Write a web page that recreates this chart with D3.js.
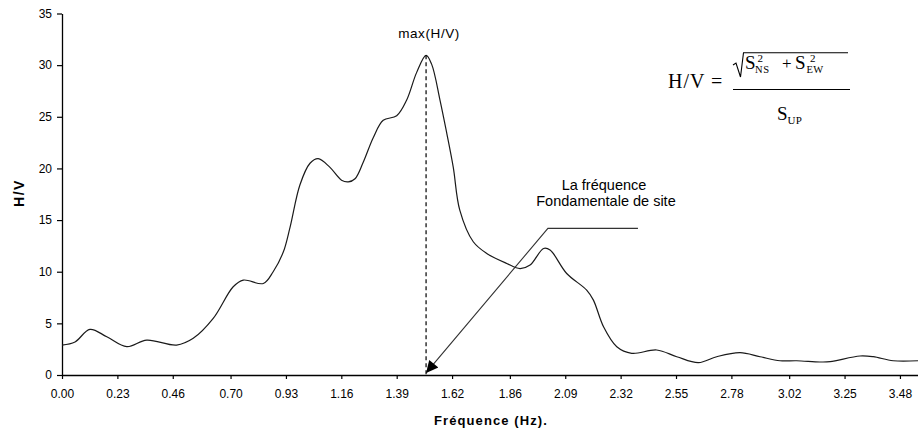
<!DOCTYPE html>
<html>
<head>
<meta charset="utf-8">
<script src="https://cdn.jsdelivr.net/npm/d3@7"></script>
<style>
  html, body { margin: 0; padding: 0; background: #fff; }
  svg { display: block; }
  text { font-family: "Liberation Sans", Arial, sans-serif; fill: #000; }
  text.serif { font-family: "Liberation Serif", "Times New Roman", serif; }
</style>
</head>
<body>
<svg id="chart" width="918" height="430"></svg>
<script>
// ---- data ----
const freq = [0.00, 0.054, 0.116, 0.186, 0.269, 0.352, 0.476, 0.545, 0.628, 0.711, 0.753, 0.836, 0.877, 0.919, 0.947, 0.988, 1.030, 1.064, 1.113, 1.161, 1.189, 1.217, 1.251, 1.293, 1.334, 1.390, 1.431, 1.473, 1.512, 1.535, 1.570, 1.598, 1.625, 1.652, 1.708, 1.764, 1.847, 1.902, 1.944, 2.000, 2.027, 2.096, 2.179, 2.207, 2.249, 2.304, 2.366, 2.470, 2.553, 2.643, 2.719, 2.816, 2.899, 2.982, 3.051, 3.148, 3.190, 3.314, 3.369, 3.452, 3.555];
const hv   = [2.90, 3.20, 4.42, 3.70, 2.74, 3.38, 2.90, 3.55, 5.48, 8.54, 9.19, 8.86, 10.0, 11.9, 14.3, 18.4, 20.5, 20.95, 20.1, 18.86, 18.7, 19.0, 20.6, 23.0, 24.66, 25.1, 26.6, 29.3, 30.95, 30.1, 26.6, 23.4, 20.1, 15.96, 12.9, 11.77, 10.8, 10.3, 10.64, 12.25, 12.1, 9.83, 8.22, 7.25, 4.67, 2.74, 2.10, 2.42, 1.77, 1.19, 1.77, 2.16, 1.77, 1.38, 1.38, 1.26, 1.29, 1.84, 1.77, 1.38, 1.38];
const xTickLabels = ["0.00","0.23","0.46","0.70","0.93","1.16","1.39","1.62","1.86","2.09","2.32","2.55","2.78","3.02","3.25","3.48"];
const yTicks = [0, 5, 10, 15, 20, 25, 30, 35];
const xDomain = [0, 3.555];
const yDomain = [0, 35];
// annotation anchors in data units
const peakIndex = hv.indexOf(d3.max(hv));
const calloutElbow = [2.018, 14.2];
const calloutEnd = [2.392, 14.2];

// ---- layout ----
const svg = d3.select("#chart");
const x = d3.scaleLinear().domain(xDomain).range([62, 918]);
const y = d3.scaleLinear().domain(yDomain).range([375, 13.5]);

// defs: arrowhead
svg.append("defs").append("marker")
  .attr("id", "arrow")
  .attr("viewBox", "0 0 10 10")
  .attr("refX", 10).attr("refY", 5)
  .attr("markerWidth", 17).attr("markerHeight", 12)
  .attr("markerUnits", "userSpaceOnUse")
  .attr("orient", "auto")
  .append("path").attr("d", "M0,0 L10,5 L0,10 Z").attr("fill", "#000");

// axes
const xAxis = d3.axisBottom(x)
  .tickValues(xTickLabels.map(Number))
  .tickFormat((d, i) => xTickLabels[i])
  .tickSize(4).tickSizeOuter(0).tickPadding(10);
const gx = svg.append("g").attr("transform", `translate(0,${y(0)})`).call(xAxis);

const yAxis = d3.axisLeft(y).tickValues(yTicks).tickFormat(d3.format("d"))
  .tickSize(5).tickSizeOuter(0).tickPadding(5);
const gy = svg.append("g").attr("transform", `translate(${x(0)},0)`).call(yAxis);

[gx, gy].forEach(g => {
  g.selectAll("path.domain").attr("stroke", "#000").attr("stroke-width", 1.3);
  g.selectAll(".tick line").attr("stroke", "#000").attr("stroke-width", 1.2);
  g.selectAll(".tick text").attr("font-size", 12).attr("fill", "#111")
    .attr("font-family", "Liberation Sans, Arial, sans-serif");
});

// axis titles
svg.append("text")
  .attr("x", 491).attr("y", 425)
  .attr("text-anchor", "middle")
  .attr("font-size", 13).attr("font-weight", "bold")
  .attr("letter-spacing", "1.1px")
  .text("Fréquence (Hz).");

svg.append("text")
  .attr("transform", "translate(24,193) rotate(-90)")
  .attr("text-anchor", "middle")
  .attr("font-size", 14).attr("font-weight", "bold")
  .attr("letter-spacing", "1.5px")
  .text("H/V");

// curve
const pts = freq.map((f, i) => [f, hv[i]]);
const line = d3.line().x(d => x(d[0])).y(d => y(d[1])).curve(d3.curveCatmullRom.alpha(0.5));
svg.append("path")
  .datum(pts)
  .attr("d", line)
  .attr("fill", "none")
  .attr("stroke", "#1a1a1a")
  .attr("stroke-width", 1.2);

// dashed line from peak down
const peakF = freq[peakIndex];
svg.append("line")
  .attr("x1", x(peakF)).attr("x2", x(peakF))
  .attr("y1", y(hv[peakIndex])).attr("y2", y(0))
  .attr("stroke", "#000").attr("stroke-width", 1.2)
  .attr("stroke-dasharray", "4,3");

// max label
svg.append("text")
  .attr("x", x(peakF) + 3).attr("y", 38)
  .attr("text-anchor", "middle")
  .attr("font-size", 13.5)
  .attr("letter-spacing", "0.6px")
  .attr("fill", "#111")
  .text("max(H/V)");

// callout
svg.append("path")
  .attr("d", `M${x(calloutEnd[0])},${y(calloutEnd[1])} L${x(calloutElbow[0])},${y(calloutElbow[1])} L${x(peakF)},${y(0.2)}`)
  .attr("fill", "none")
  .attr("stroke", "#333").attr("stroke-width", 1.1)
  .attr("marker-end", "url(#arrow)");

svg.append("text")
  .attr("x", 604).attr("y", 190)
  .attr("text-anchor", "middle")
  .attr("font-size", 14.5).attr("fill", "#111")
  .text("La fréquence");
svg.append("text")
  .attr("x", 606).attr("y", 206)
  .attr("text-anchor", "middle")
  .attr("font-size", 14.5).attr("fill", "#111")
  .text("Fondamentale de site");

// formula
const fg = svg.append("g");
const ft = (tx, ty, s, size, ls) => fg.append("text").attr("class", "serif")
  .attr("x", tx).attr("y", ty).attr("font-size", size)
  .attr("letter-spacing", ls || 0).text(s);
ft(668, 88, "H/V =", 20, "1px");
fg.append("line").attr("x1", 733).attr("x2", 850).attr("y1", 89.5).attr("y2", 89.5)
  .attr("stroke", "#000").attr("stroke-width", 1.1);
fg.append("path").attr("d", "M733,65 L736,63 L740.5,77 L743.5,52.7 L848,52.7")
  .attr("fill", "none").attr("stroke", "#000").attr("stroke-width", 1.1);
ft(745, 68.5, "S", 19);
ft(755, 72.5, "NS", 10.5, "0.6px");
ft(757.5, 62, "2", 11);
ft(782, 68.5, "+", 17);
ft(795, 68.5, "S", 19);
ft(806.5, 72.5, "EW", 10.5, "0.4px");
ft(810, 62, "2", 11);
ft(777, 120, "S", 19);
ft(787.5, 123.5, "UP", 11, "0.3px");
</script>
</body>
</html>
